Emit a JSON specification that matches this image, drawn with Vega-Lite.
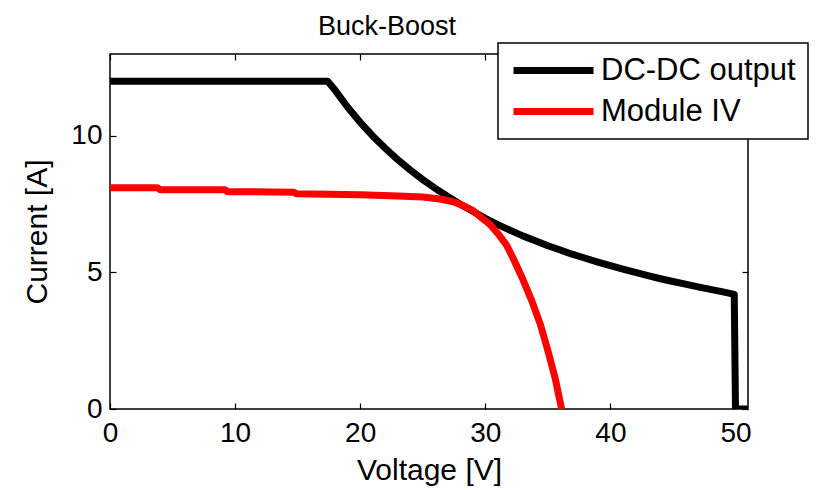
{
  "$schema": "https://vega.github.io/schema/vega-lite/v6.json",
  "width": 638,
  "height": 355,
  "autosize": "none",
  "padding": {"left": 110, "top": 54, "right": 72, "bottom": 81},
  "background": "white",
  "config": {
    "font": "Liberation Sans",
    "view": {"stroke": "black", "strokeWidth": 1.5},
    "title": {"fontSize": 27, "fontWeight": "normal", "color": "black", "font": "Liberation Sans"},
    "legend": {"strokeWidth": 1.5},
    "axis": {"labelFont": "Liberation Sans", "titleFont": "Liberation Sans", "labelColor": "black", "titleColor": "black", "grid": false, "domainColor": "black", "tickColor": "black", "domainWidth": 1.5, "tickWidth": 1.2}
  },
  "title": {"text": "Buck-Boost", "fontSize": 27, "fontWeight": "normal", "color": "black", "dx": -42, "offset": -26, "baseline": "bottom", "font": "Liberation Sans"},
  "data": {
    "values": [
      {"series": "DC-DC output", "i": 0, "V": 0, "I": 12.0},
      {"series": "DC-DC output", "i": 1, "V": 17.4, "I": 12.0},
      {"series": "DC-DC output", "i": 2, "V": 18, "I": 11.67},
      {"series": "DC-DC output", "i": 3, "V": 19, "I": 11.05},
      {"series": "DC-DC output", "i": 4, "V": 20, "I": 10.5},
      {"series": "DC-DC output", "i": 5, "V": 21, "I": 10.0},
      {"series": "DC-DC output", "i": 6, "V": 22, "I": 9.55},
      {"series": "DC-DC output", "i": 7, "V": 23, "I": 9.13},
      {"series": "DC-DC output", "i": 8, "V": 24, "I": 8.75},
      {"series": "DC-DC output", "i": 9, "V": 25, "I": 8.4},
      {"series": "DC-DC output", "i": 10, "V": 26, "I": 8.08},
      {"series": "DC-DC output", "i": 11, "V": 27, "I": 7.78},
      {"series": "DC-DC output", "i": 12, "V": 28, "I": 7.5},
      {"series": "DC-DC output", "i": 13, "V": 29, "I": 7.24},
      {"series": "DC-DC output", "i": 14, "V": 30, "I": 6.98},
      {"series": "DC-DC output", "i": 15, "V": 31, "I": 6.75},
      {"series": "DC-DC output", "i": 16, "V": 32, "I": 6.54},
      {"series": "DC-DC output", "i": 17, "V": 33, "I": 6.34},
      {"series": "DC-DC output", "i": 18, "V": 34, "I": 6.16},
      {"series": "DC-DC output", "i": 19, "V": 35, "I": 5.98},
      {"series": "DC-DC output", "i": 20, "V": 36, "I": 5.82},
      {"series": "DC-DC output", "i": 21, "V": 37, "I": 5.66},
      {"series": "DC-DC output", "i": 22, "V": 38, "I": 5.52},
      {"series": "DC-DC output", "i": 23, "V": 39, "I": 5.38},
      {"series": "DC-DC output", "i": 24, "V": 40, "I": 5.25},
      {"series": "DC-DC output", "i": 25, "V": 41, "I": 5.12},
      {"series": "DC-DC output", "i": 26, "V": 42, "I": 5.0},
      {"series": "DC-DC output", "i": 27, "V": 43, "I": 4.88},
      {"series": "DC-DC output", "i": 28, "V": 44, "I": 4.77},
      {"series": "DC-DC output", "i": 29, "V": 45, "I": 4.67},
      {"series": "DC-DC output", "i": 30, "V": 46, "I": 4.57},
      {"series": "DC-DC output", "i": 31, "V": 47, "I": 4.47},
      {"series": "DC-DC output", "i": 32, "V": 48, "I": 4.38},
      {"series": "DC-DC output", "i": 33, "V": 49, "I": 4.29},
      {"series": "DC-DC output", "i": 34, "V": 49.9, "I": 4.2},
      {"series": "DC-DC output", "i": 35, "V": 50.0, "I": 0},
      {"series": "DC-DC output", "i": 36, "V": 51, "I": 0},
      {"series": "Module IV", "i": 0, "V": 0, "I": 8.1},
      {"series": "Module IV", "i": 1, "V": 3.8, "I": 8.1},
      {"series": "Module IV", "i": 2, "V": 4.0, "I": 8.03},
      {"series": "Module IV", "i": 3, "V": 9.2, "I": 8.03},
      {"series": "Module IV", "i": 4, "V": 9.4, "I": 7.96},
      {"series": "Module IV", "i": 5, "V": 14.7, "I": 7.94},
      {"series": "Module IV", "i": 6, "V": 14.9, "I": 7.88},
      {"series": "Module IV", "i": 7, "V": 20.0, "I": 7.85},
      {"series": "Module IV", "i": 8, "V": 23.0, "I": 7.8},
      {"series": "Module IV", "i": 9, "V": 25.0, "I": 7.76},
      {"series": "Module IV", "i": 10, "V": 26.5, "I": 7.68},
      {"series": "Module IV", "i": 11, "V": 27.5, "I": 7.58},
      {"series": "Module IV", "i": 12, "V": 28.1, "I": 7.47},
      {"series": "Module IV", "i": 13, "V": 29.0, "I": 7.27},
      {"series": "Module IV", "i": 14, "V": 29.7, "I": 7.0},
      {"series": "Module IV", "i": 15, "V": 30.4, "I": 6.75},
      {"series": "Module IV", "i": 16, "V": 31.0, "I": 6.43},
      {"series": "Module IV", "i": 17, "V": 31.7, "I": 6.0},
      {"series": "Module IV", "i": 18, "V": 32.3, "I": 5.45},
      {"series": "Module IV", "i": 19, "V": 33.0, "I": 4.75},
      {"series": "Module IV", "i": 20, "V": 33.7, "I": 3.98},
      {"series": "Module IV", "i": 21, "V": 34.4, "I": 3.1},
      {"series": "Module IV", "i": 22, "V": 35.0, "I": 2.14},
      {"series": "Module IV", "i": 23, "V": 35.6, "I": 1.1},
      {"series": "Module IV", "i": 24, "V": 36.1, "I": 0}
    ]
  },
  "layer": [
    {
      "mark": {"type": "line", "strokeWidth": 7, "strokeJoin": "round", "strokeCap": "butt", "clip": true},
      "encoding": {
        "x": {"field": "V", "type": "quantitative", "scale": {"domain": [0, 51], "nice": false, "zero": false},
          "axis": {"orient": "bottom", "values": [0, 10, 20, 30, 40, 50], "tickSize": -6, "labelPadding": 16, "labelFontSize": 28, "title": "Voltage [V]", "titleFontSize": 30, "titleFontWeight": "normal", "titlePadding": 8, "domain": false, "labelFlush": false}},
        "y": {"field": "I", "type": "quantitative", "scale": {"domain": [0, 13], "nice": false, "zero": false},
          "axis": {"orient": "left", "values": [0, 5, 10], "tickSize": -6, "labelPadding": 14, "labelFontSize": 28, "title": "Current [A]", "titleFontSize": 30, "titleFontWeight": "normal", "titlePadding": 18, "domain": false}},
        "order": {"field": "i", "type": "quantitative"},
        "color": {"field": "series", "type": "nominal",
          "scale": {"domain": ["DC-DC output", "Module IV"], "range": ["#000000", "#ff0000"]},
          "legend": {"orient": "none", "legendX": 388, "legendY": -11, "title": null, "symbolType": "M-4,0H4", "symbolSize": 400, "symbolStrokeWidth": 7, "symbolOffset": 28, "labelFontSize": 31, "labelFont": "Liberation Sans", "labelColor": "black", "labelOffset": 32, "labelLimit": 400, "strokeColor": "black", "fillColor": "white", "padding": 12, "rowPadding": 9}}
      }
    },
    {
      "mark": {"type": "line", "opacity": 0},
      "encoding": {
        "x": {"field": "V", "type": "quantitative", "scale": {"domain": [0, 51], "nice": false, "zero": false},
          "axis": {"orient": "top", "values": [0, 10, 20, 30, 40, 50], "tickSize": -6, "labels": false, "title": null, "domain": false}},
        "y": {"field": "I", "type": "quantitative", "scale": {"domain": [0, 13], "nice": false, "zero": false},
          "axis": {"orient": "right", "values": [0, 5, 10], "tickSize": -6, "labels": false, "title": null, "domain": false}},
        "detail": {"field": "series"}
      }
    }
  ],
  "resolve": {"axis": {"x": "independent", "y": "independent"}}
}
